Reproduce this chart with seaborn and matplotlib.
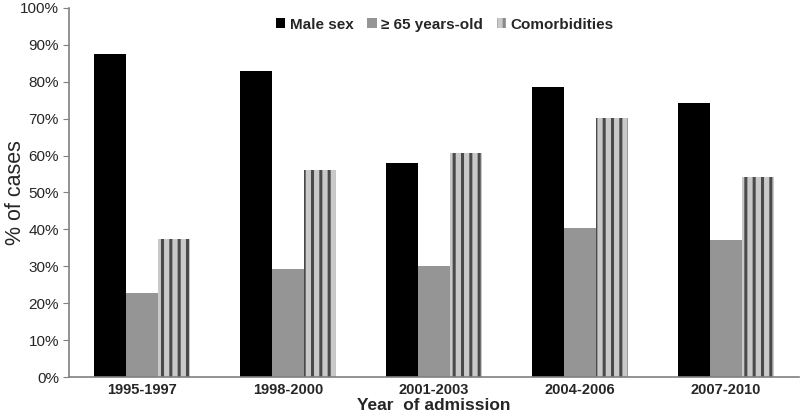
import matplotlib
matplotlib.use("Agg")
import matplotlib.pyplot as plt
import seaborn as sns
import pandas as pd
import numpy as np

periods = ["1995-1997", "1998-2000", "2001-2003", "2004-2006", "2007-2010"]
series = ["Male sex", "\u2265 65 years-old", "Comorbidities"]
male_sex = [87.5, 82.8, 58.0, 78.6, 74.2]
age_65 = [22.8, 29.4, 30.1, 40.3, 37.1]
comorbidities = [37.5, 56.2, 60.6, 70.3, 54.3]


def main():
    df = pd.DataFrame({
        "period": periods * 3,
        "group": [series[0]] * 5 + [series[1]] * 5 + [series[2]] * 5,
        "value": male_sex + age_65 + comorbidities,
    })

    sns.set_style("white")
    plt.rcParams["font.family"] = ["Liberation Sans", "DejaVu Sans"]
    plt.rcParams["hatch.linewidth"] = 2.2

    fig = plt.figure(figsize=(8, 4.18), dpi=100)
    ax = fig.add_axes([0.086, 0.098, 0.913, 0.883])

    palette = {series[0]: "#000000", series[1]: "#959595", series[2]: "#c9c9c9"}
    sns.barplot(data=df, x="period", y="value", hue="group", order=periods,
                hue_order=series, palette=palette, width=0.66, saturation=1,
                ax=ax, errorbar=None, linewidth=0)

    # striped pattern for comorbidities
    for bar in ax.containers[2]:
        bar.set_hatch("||")
        bar.set_edgecolor("#4a4a4a")
        bar.set_linewidth(0)

    ax.set_xlim(-0.5, 4.5)
    ax.set_ylim(0, 100)
    ax.set_yticks(np.arange(0, 101, 10))
    ax.set_yticklabels([f"{v}%" for v in range(0, 101, 10)], fontsize=11)
    ax.set_xticks(range(5))
    ax.set_xticklabels(periods, fontsize=10.5, fontweight="bold")
    ax.tick_params(axis="x", length=0, pad=4)
    ax.set_xticks(np.arange(0.5, 4.5, 1), minor=True)
    ax.tick_params(axis="x", which="minor", length=4, color="#808080", direction="out")
    ax.tick_params(axis="y", length=4, color="#808080", direction="out", left=True, pad=3)

    ax.set_xlabel("Year  of admission", fontsize=12.5, fontweight="bold", labelpad=1)
    ax.set_ylabel("% of cases", fontsize=15.5)
    ax.yaxis.set_label_coords(-0.058, 0.5)

    for side in ["top", "right"]:
        ax.spines[side].set_visible(False)
    for side in ["left", "bottom"]:
        ax.spines[side].set_color("#808080")
        ax.spines[side].set_linewidth(1.2)

    leg = ax.legend(loc="center", bbox_to_anchor=(0.515, 0.955), ncol=3, frameon=False,
                    prop={"weight": "bold", "size": 11}, handlelength=0.6, handleheight=0.6,
                    handletextpad=0.3, columnspacing=0.9)
    h = leg.legend_handles[2]
    h.set_hatch("||")
    h.set_edgecolor("#8a8a8a")
    h.set_linewidth(0)

    fig.savefig("out.png", dpi=100)
    plt.close(fig)


if __name__ == "__main__":
    main()
